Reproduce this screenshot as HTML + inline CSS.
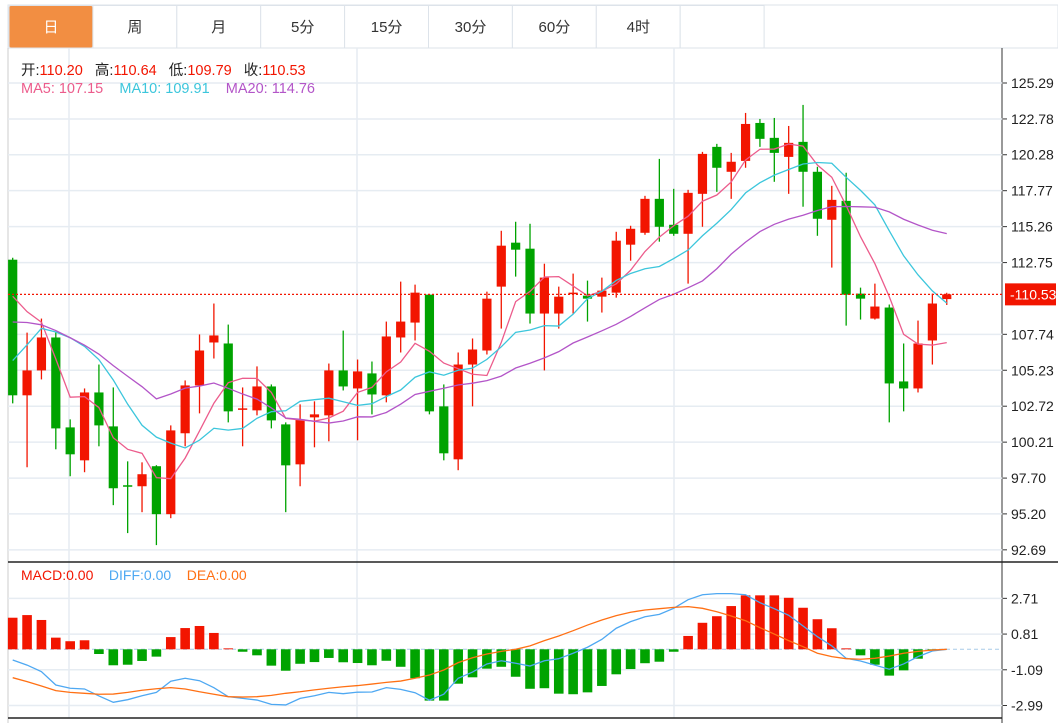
<!DOCTYPE html>
<html><head><meta charset="utf-8">
<style>
body{margin:0;background:#fff;width:1058px;height:723px;overflow:hidden;font-family:"Liberation Sans","Noto Sans CJK SC",sans-serif;}
svg{position:absolute;left:0;top:0}
</style></head><body>
<svg id="c" width="1058" height="723"></svg>
<script>
const priorCloses=[106.0,110.7,109.2,109.4,114,114,113,112,112.5,112.2,94.2,96.0,103.7,103.4,109.75,110.6,111.2,114.0,112.7];
const opens=[112.95,103.48,105.22,107.52,101.24,98.94,103.68,101.31,97.20,97.13,98.53,95.18,100.83,104.17,107.17,107.10,102.50,102.43,104.10,101.45,98.66,101.94,102.08,105.22,103.96,105.01,103.48,107.52,108.56,110.51,102.71,99.01,105.63,106.61,111.07,114.14,113.72,109.19,109.19,110.58,110.44,110.37,110.65,114.00,114.83,117.20,115.39,114.76,117.55,120.83,119.09,119.85,122.50,121.46,120.13,121.18,119.09,115.74,117.06,110.58,108.84,109.61,104.45,103.96,107.31,110.20];
const highs=[113.09,107.86,108.84,107.86,101.80,103.96,105.63,104.03,98.87,98.80,98.60,101.38,104.52,107.73,109.89,108.42,104.03,105.50,104.24,101.59,102.85,103.06,105.70,108.00,105.98,105.84,108.63,111.42,111.21,110.51,104.24,106.47,107.45,110.72,114.97,115.60,115.46,112.67,111.07,111.98,111.49,111.70,114.90,115.32,117.41,119.99,117.90,117.83,120.48,121.04,120.41,123.20,122.78,122.85,122.29,123.76,119.44,118.11,119.02,111.00,111.28,109.82,107.10,108.70,110.58,110.64];
const lows=[102.92,98.46,104.59,99.71,97.83,98.11,99.92,95.81,93.86,95.32,93.02,94.90,99.92,102.22,106.05,101.59,99.92,102.08,101.17,95.32,97.13,99.85,100.27,103.82,100.34,102.15,102.99,106.47,107.31,102.15,98.94,98.25,102.71,106.33,108.14,111.77,108.49,105.22,108.14,109.19,108.63,109.26,110.30,112.88,114.69,114.21,114.62,111.28,115.25,117.69,117.20,119.37,120.83,118.39,117.55,116.65,114.62,112.40,108.35,108.77,108.77,101.59,102.36,103.68,105.63,109.79];
const closes=[103.48,105.22,107.52,101.17,99.36,103.68,101.38,96.99,97.13,97.97,95.18,101.03,104.17,106.61,107.66,102.36,102.57,104.10,101.73,98.59,101.80,102.15,105.22,104.10,105.15,103.54,107.59,108.63,110.65,102.36,99.43,105.63,106.68,110.23,113.93,113.65,109.19,111.70,110.37,110.65,110.23,110.79,114.28,115.11,117.20,115.25,114.76,117.62,120.34,119.37,119.79,122.43,121.39,120.41,121.11,119.09,115.81,117.13,110.51,110.23,109.68,104.31,103.96,107.10,109.89,110.53];
const macdHist=[1.68,1.82,1.56,0.62,0.43,0.48,-0.25,-0.85,-0.82,-0.62,-0.39,0.65,1.13,1.24,0.87,0.05,-0.13,-0.32,-0.87,-1.14,-0.77,-0.68,-0.46,-0.69,-0.73,-0.85,-0.61,-0.93,-1.54,-2.73,-2.73,-1.83,-1.49,-1.03,-0.93,-1.46,-2.10,-2.07,-2.36,-2.39,-2.29,-1.95,-1.33,-1.05,-0.74,-0.66,-0.13,0.71,1.41,1.76,2.30,2.87,2.87,2.87,2.74,2.21,1.60,1.12,0.05,-0.32,-0.82,-1.40,-1.12,-0.50,-0.07,0];
const diffVals=[-0.57,-0.84,-1.19,-1.90,-2.07,-2.11,-2.48,-2.82,-2.68,-2.47,-2.29,-1.70,-1.54,-1.67,-2.04,-2.52,-2.61,-2.70,-2.93,-2.96,-2.61,-2.47,-2.29,-2.36,-2.28,-2.27,-2.04,-2.13,-2.31,-2.71,-2.39,-1.54,-1.21,-0.78,-0.61,-0.74,-0.89,-0.61,-0.50,-0.21,0.11,0.53,1.12,1.47,1.73,1.86,2.18,2.64,2.90,2.96,2.96,2.90,2.48,2.16,1.81,1.24,0.67,0.18,-0.48,-0.62,-0.84,-1.06,-0.78,-0.39,-0.09,0];
const deaVals=[-1.51,-1.72,-1.95,-2.20,-2.29,-2.34,-2.39,-2.38,-2.29,-2.18,-2.10,-2.04,-2.11,-2.26,-2.39,-2.52,-2.54,-2.52,-2.45,-2.34,-2.26,-2.16,-2.07,-1.99,-1.93,-1.85,-1.76,-1.69,-1.54,-1.37,-1.10,-0.71,-0.45,-0.25,-0.11,0,0.18,0.46,0.71,0.99,1.29,1.56,1.79,1.97,2.09,2.16,2.23,2.27,2.18,2.00,1.77,1.52,1.15,0.81,0.46,0.14,-0.21,-0.39,-0.50,-0.53,-0.48,-0.36,-0.21,-0.11,-0.04,0];
const priceTicks=[125.29,122.78,120.28,117.77,115.26,112.75,107.74,105.23,102.72,100.21,97.70,95.20,92.69];
const macdTicks=[2.71,0.81,-1.09,-2.99];
const lastPrice=110.53;
const tabLabels=["日","周","月","5分","15分","30分","60分","4时",""];

const NS="http://www.w3.org/2000/svg";
const svg=document.getElementById('c');
function el(tag,attrs,parent,text){const e=document.createElementNS(NS,tag);for(const k in attrs)e.setAttribute(k,attrs[k]);if(text!==undefined)e.textContent=text;(parent||svg).appendChild(e);return e;}
const xOf=i=>12.7+i*14.37;
const yP=p=>83+(125.29-p)*14.32;
const yM=v=>649.3-v*18.8;
const RED="#f21500",GREEN="#00a300";

// tabs
const tabs=el('g',{});


el('rect',{x:8,y:5,width:1050,height:43,fill:'#fff',stroke:'#dde3ea'},tabs);
tabLabels.forEach((t,i)=>{
  const x0=9+i*83.9;
  const g=el('g',{},tabs);
  
  
  el('rect',{x:x0,y:5.5,width:83.9,height:42.5,fill:i===0?'#f28e42':'#fff',stroke:'#dde3ea',rx:i===0?2:0},g);
  if(t)el('text',{x:x0+42,y:32,'text-anchor':'middle','font-size':15,fill:i===0?'#fff':'#333'},g,t);
});

// panel frame
el('line',{x1:8,y1:48,x2:8,y2:723,stroke:'#ccc'});
el('line',{x1:1002,y1:48,x2:1002,y2:723,stroke:'#333'});
// vertical grid
[69,357,674].forEach(x=>el('line',{x1:x,y1:48,x2:x,y2:718,stroke:'#e6ecf2','stroke-width':1.5}));
// horizontal grid and ticks
const axis=el('g',{});


priceTicks.forEach(p=>{
  const y=yP(p);
  el('line',{x1:8,y1:y,x2:1002,y2:y,stroke:'#e6ecf2','stroke-width':1.5});
  el('line',{x1:1003,y1:y,x2:1007,y2:y,stroke:'#333'},axis);
  el('text',{x:1011,y:y+5,'font-size':14,fill:'#222'},axis,p.toFixed(2));
});
// MACD frame
el('line',{x1:8,y1:562,x2:1058,y2:562,stroke:'#222','stroke-width':1.5});
el('line',{x1:8,y1:718,x2:1002,y2:718,stroke:'#222','stroke-width':1.5});
const maxis=el('g',{});


macdTicks.forEach(v=>{
  const y=yM(v);
  el('line',{x1:8,y1:y,x2:1002,y2:y,stroke:'#e6ecf2','stroke-width':1.5});
  el('line',{x1:1003,y1:y,x2:1007,y2:y,stroke:'#333'},maxis);
  el('text',{x:1011,y:y+5,'font-size':14,fill:'#222'},maxis,v.toFixed(2));
});
el('line',{x1:8,y1:yM(0),x2:1002,y2:yM(0),stroke:'#a8cce8','stroke-dasharray':'4 3'});

// candles
const cg=el('g',{});


closes.forEach((c,i)=>{
  const o=opens[i],x=xOf(i),col=c>=o?RED:GREEN;
  const g=el('g',{},cg);
  
  
  el('line',{x1:x,y1:yP(highs[i]),x2:x,y2:yP(lows[i]),stroke:col,'stroke-width':1.3},g);
  const t=yP(Math.max(o,c)),b=yP(Math.min(o,c));
  el('rect',{x:x-4.6,y:t,width:9.2,height:Math.max(1.5,b-t),fill:col},g);
});

// moving averages
const all=priorCloses.concat(closes);
function ma(n){return closes.map((_,i)=>{const j=i+priorCloses.length;let s=0;for(let k=j-n+1;k<=j;k++)s+=all[k];return s/n;});}
[[5,'#ec5c8c','ma5-line'],[10,'#3cc6dc','ma10-line'],[20,'#b355c8','ma20-line']].forEach(([n,col,name])=>{
  const v=ma(n);
  const pl=el('polyline',{points:v.map((p,i)=>xOf(i)+','+yP(p)).join(' '),fill:'none',stroke:col,'stroke-width':1.3});
  
  
});

// last price line
el('line',{x1:8,y1:yP(lastPrice),x2:1002,y2:yP(lastPrice),stroke:RED,'stroke-dasharray':'2 2','stroke-width':1.2});
const lp=el('g',{});


el('rect',{x:1005,y:yP(lastPrice)-11,width:51,height:22,fill:'#f21500'},lp);
el('text',{x:1010,y:yP(lastPrice)+5,'font-size':14,fill:'#fff'},lp,'-'+lastPrice.toFixed(2));

// MACD histogram
const hg=el('g',{});


macdHist.forEach((v,i)=>{
  const y0=yM(0),y1=yM(v);
  const r=el('rect',{x:xOf(i)-4.8,y:Math.min(y0,y1),width:9.6,height:Math.abs(y1-y0),fill:v>=0?RED:GREEN},hg);
  
  
});
[[diffVals,'#4ea8f2','diff-line'],[deaVals,'#ff7014','dea-line']].forEach(([arr,col,name])=>{
  const pl=el('polyline',{points:arr.map((v,i)=>xOf(i)+','+yM(v)).join(' '),fill:'none',stroke:col,'stroke-width':1.3});
  
  
});
</script>
<div style="position:absolute;left:21px;top:59px;font-size:14.5px;color:#222;white-space:nowrap">开:<span style="color:#f21500">110.20</span>&nbsp;&nbsp; 高:<span style="color:#f21500">110.64</span>&nbsp;&nbsp; 低:<span style="color:#f21500">109.79</span>&nbsp;&nbsp; 收:<span style="color:#f21500">110.53</span></div>
<div style="position:absolute;left:21px;top:81px;font-size:14.5px;white-space:nowrap"><span style="color:#ec5c8c">MA5: 107.15</span>&nbsp;&nbsp;&nbsp; <span style="color:#3cc6dc">MA10: 109.91</span>&nbsp;&nbsp;&nbsp; <span style="color:#b355c8">MA20: 114.76</span></div>
<div style="position:absolute;left:21px;top:567px;font-size:14px;white-space:nowrap"><span style="color:#f21500">MACD:0.00</span>&nbsp;&nbsp;&nbsp; <span style="color:#4ea8f2">DIFF:0.00</span>&nbsp;&nbsp;&nbsp; <span style="color:#ff7014">DEA:0.00</span></div>
</body></html>
